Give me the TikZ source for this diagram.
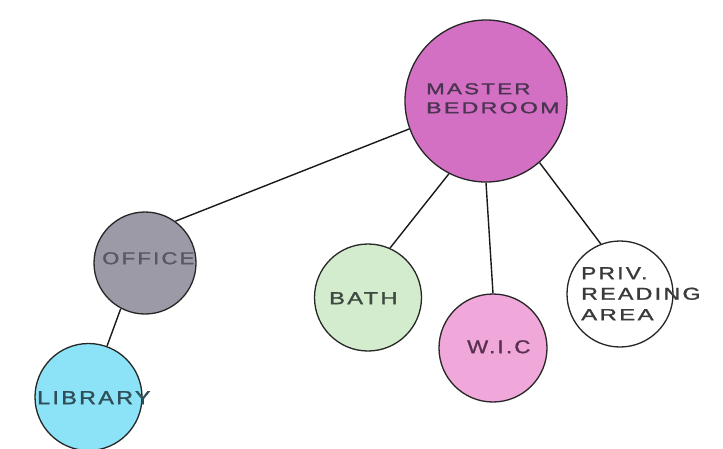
\documentclass[tikz,border=0pt]{standalone}
\usepackage{fontspec}
\usepackage{graphicx}
\setmainfont{Liberation Sans}[FakeBold=1.2]
\newcommand{\fitt}[3]{\resizebox{#1pt}{#2pt}{\addfontfeature{LetterSpace=10}#3\kern-1pt}}
\definecolor{masterc}{RGB}{211,112,196}
\definecolor{officec}{RGB}{155,154,166}
\definecolor{libc}{RGB}{140,226,246}
\definecolor{bathc}{RGB}{212,236,206}
\definecolor{wicc}{RGB}{240,168,218}
\definecolor{masterT}{RGB}{74,52,80}
\definecolor{officeT}{RGB}{88,88,100}
\definecolor{libT}{RGB}{46,78,88}
\definecolor{bathT}{RGB}{62,74,64}
\definecolor{wicT}{RGB}{90,48,80}
\definecolor{privT}{RGB}{58,58,58}
\begin{document}
\begin{tikzpicture}[x=1pt,y=-1pt,
  room/.style={circle, draw=black!85, line width=1.3pt, inner sep=0pt},
  link/.style={draw=black!90, line width=1.4pt},
  lbl/.style={inner sep=0pt, anchor=north west, align=left}]
\useasboundingbox (0,0) rectangle (723,448);
\fill[white] (0,0) rectangle (723,448);
% rooms
\node[room, fill=masterc, minimum size=162pt] (master) at (486,101) {};
\node[room, fill=officec, minimum size=102pt] (office) at (145,263) {};
\node[room, fill=libc, minimum size=107pt] (library) at (88.5,397) {};
\node[room, fill=bathc, minimum size=107pt] (bath) at (368,297.5) {};
\node[room, fill=wicc, minimum size=108pt] (wic) at (493,348) {};
\node[room, fill=white, minimum size=106pt] (priv) at (620,294) {};
% connectors
\draw[link] (master.200) -- (office.54);
\draw[link] (office.242) -- (library.70);
\draw[link] (master.243) -- (bath.66);
\draw[link] (master.270) -- (wic.90);
\draw[link] (master.311) -- (priv.111);
% labels
\node[lbl, text=masterT, font=\fontsize{10}{19}\selectfont] (tmaster) at (426,83)
  {\fitt{102}{11}{MASTER}\\\fitt{131}{11}{BEDROOM}};
\node[lbl, text=officeT] (toffice) at (102,252) {\fitt{90}{12}{OFFICE}};
\node[lbl, text=libT] (tlibrary) at (37,391) {\fitt{111}{13}{LIBRARY}};
\node[lbl, text=bathT] (tbath) at (329,292) {\fitt{66}{12}{BATH}};
\node[lbl, text=wicT] (twic) at (467,340) {\fitt{61}{13}{W.I.C}};
\node[lbl, text=privT, font=\fontsize{10}{20.5}\selectfont] (tpriv) at (581,267)
  {\fitt{64}{12}{PRIV.}\\\fitt{117}{12}{READING}\\\fitt{70}{11}{AREA}};
\end{tikzpicture}
\end{document}
